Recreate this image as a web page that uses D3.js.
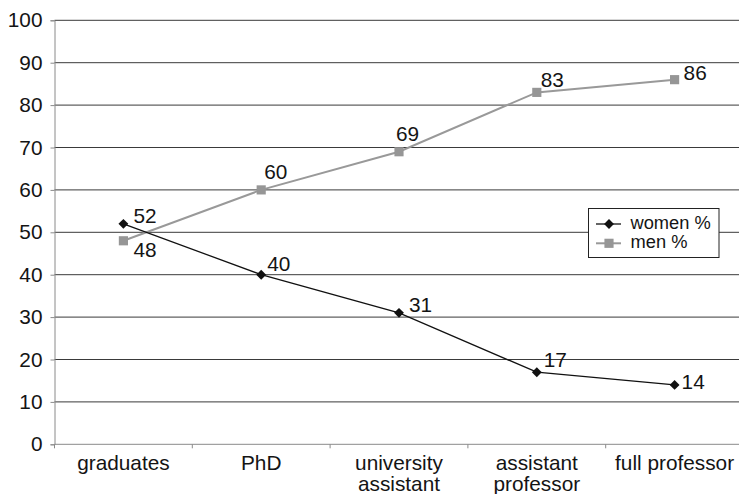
<!DOCTYPE html>
<html>
<head>
<meta charset="utf-8">
<script src="https://cdn.jsdelivr.net/npm/d3@7/dist/d3.min.js"></script>
<style>
  html, body { margin: 0; padding: 0; background: #fff; overflow: hidden; }
  svg { display: block; font-family: "Liberation Sans", Arial, sans-serif; }
</style>
</head>
<body>
<svg id="chart" width="739" height="494"></svg>
<script>
// Academic career stages and the share of women / men at each stage
const categories = ["graduates", "PhD", "university assistant", "assistant professor", "full professor"];
const womenPct = [52, 40, 31, 17, 14];
const menPct = [48, 60, 69, 83, 86];
const yTicks = [0, 10, 20, 30, 40, 50, 60, 70, 80, 90, 100];
const seriesNames = ["women %", "men %"];

// Hand-placed value label offsets (dx, dy of the baseline from the point)
const womenLabelOffset = [[10, -1], [6, -4], [10, -1], [7, -5], [7, 4.5]];
const menLabelOffset = [[10, 16.5], [3, -10.5], [-3, -11], [4, -5], [9, 0.5]];

const svg = d3.select("#chart");
const plotLeft = 54.5, plotRight = 743.5, plotTop = 20.3, plotBottom = 444.3;

const x = d3.scaleBand().domain(categories).range([plotLeft, plotRight]);
const y = d3.scaleLinear().domain([0, 100]).range([plotBottom, plotTop]);
const cx = c => x(c) + x.bandwidth() / 2;

const textColor = "#141414";
const fontSize = 20.8;

// Horizontal gridlines
svg.append("g")
  .selectAll("line")
  .data(yTicks.filter(t => t > 0))
  .join("line")
  .attr("x1", plotLeft).attr("x2", plotRight)
  .attr("y1", d => y(d)).attr("y2", d => y(d))
  .attr("stroke", "#3a3a3a").attr("stroke-width", 1);

// Y axis
const yAxis = svg.append("g")
  .attr("transform", `translate(${plotLeft},0)`)
  .call(d3.axisLeft(y).tickValues(yTicks).tickSize(4).tickPadding(8).tickFormat(d3.format("d")));
yAxis.select(".domain").attr("stroke", "#8a8a8a");
yAxis.selectAll(".tick line").attr("stroke", "#8a8a8a");
yAxis.selectAll(".tick text")
  .attr("font-size", fontSize).attr("fill", textColor)
  .attr("font-family", "Liberation Sans, Arial, sans-serif");

// X axis with ticks on the category boundaries
const xAxis = svg.append("g")
  .attr("transform", `translate(0,${plotBottom})`)
  .call(d3.axisBottom(x).tickSize(0).tickFormat(""));
xAxis.select(".domain").attr("stroke", "#8a8a8a").attr("d", `M${plotLeft},0H${plotRight}`);
xAxis.selectAll(".tick").remove();
xAxis.selectAll("line.boundary")
  .data(categories)
  .join("line")
  .attr("class", "boundary")
  .attr("x1", d => x(d)).attr("x2", d => x(d))
  .attr("y1", 0).attr("y2", 4)
  .attr("stroke", "#8a8a8a");

// Category labels (wrapped onto two lines where needed)
const catLabels = svg.append("g")
  .selectAll("text")
  .data(categories)
  .join("text")
  .attr("x", d => cx(d))
  .attr("y", plotBottom + 26)
  .attr("text-anchor", "middle")
  .attr("font-size", fontSize)
  .attr("fill", textColor);
catLabels.each(function (d) {
  const t = d3.select(this);
  const words = d === "full professor" ? [d] : d.split(" ");
  words.forEach((w, i) => {
    t.append("tspan").attr("x", cx(d)).attr("dy", i === 0 ? 0 : 20.7).text(w);
  });
});

// Series lines
const line = d3.line().x((d, i) => cx(categories[i])).y(d => y(d));

svg.append("path")
  .datum(menPct)
  .attr("d", line)
  .attr("fill", "none")
  .attr("stroke", "#999999")
  .attr("stroke-width", 2);

svg.append("path")
  .datum(womenPct)
  .attr("d", line)
  .attr("fill", "none")
  .attr("stroke", "#111111")
  .attr("stroke-width", 1.3);

// Markers
const diamond = d3.symbol().type(d3.symbolDiamond2).size(62);
const square = d3.symbol().type(d3.symbolSquare).size(84);

svg.append("g")
  .selectAll("path")
  .data(menPct)
  .join("path")
  .attr("d", square)
  .attr("transform", (d, i) => `translate(${cx(categories[i])},${y(d)})`)
  .attr("fill", "#969696");

svg.append("g")
  .selectAll("path")
  .data(womenPct)
  .join("path")
  .attr("d", diamond)
  .attr("transform", (d, i) => `translate(${cx(categories[i])},${y(d)})`)
  .attr("fill", "#111111");

// Value labels
function valueLabels(values, offsets) {
  svg.append("g")
    .selectAll("text")
    .data(values)
    .join("text")
    .attr("x", (d, i) => cx(categories[i]) + offsets[i][0])
    .attr("y", (d, i) => y(d) + offsets[i][1])
    .attr("font-size", fontSize)
    .attr("fill", textColor)
    .text(d => d);
}
valueLabels(womenPct, womenLabelOffset);
valueLabels(menPct, menLabelOffset);

// Legend
const legend = svg.append("g").attr("transform", "translate(588.5,208.5)");
legend.append("rect")
  .attr("width", 130.5).attr("height", 49)
  .attr("fill", "#fff").attr("stroke", "#222").attr("stroke-width", 1);

const legendItems = [
  { name: seriesNames[0], color: "#111111", width: 1.3, symbol: diamond },
  { name: seriesNames[1], color: "#999999", width: 2, symbol: square }
];
legendItems.forEach((it, i) => {
  const g = legend.append("g").attr("transform", `translate(0,${15.5 + i * 19.3})`);
  g.append("line").attr("x1", 7.5).attr("x2", 32.5).attr("y1", 0).attr("y2", 0)
    .attr("stroke", it.color).attr("stroke-width", it.width);
  g.append("path").attr("d", it.symbol)
    .attr("transform", "translate(20.5,0)")
    .attr("fill", i === 0 ? "#111111" : "#969696");
  g.append("text").attr("x", 42).attr("y", 5)
    .attr("font-size", 18.3).attr("fill", textColor).text(it.name);
});
</script>
</body>
</html>
